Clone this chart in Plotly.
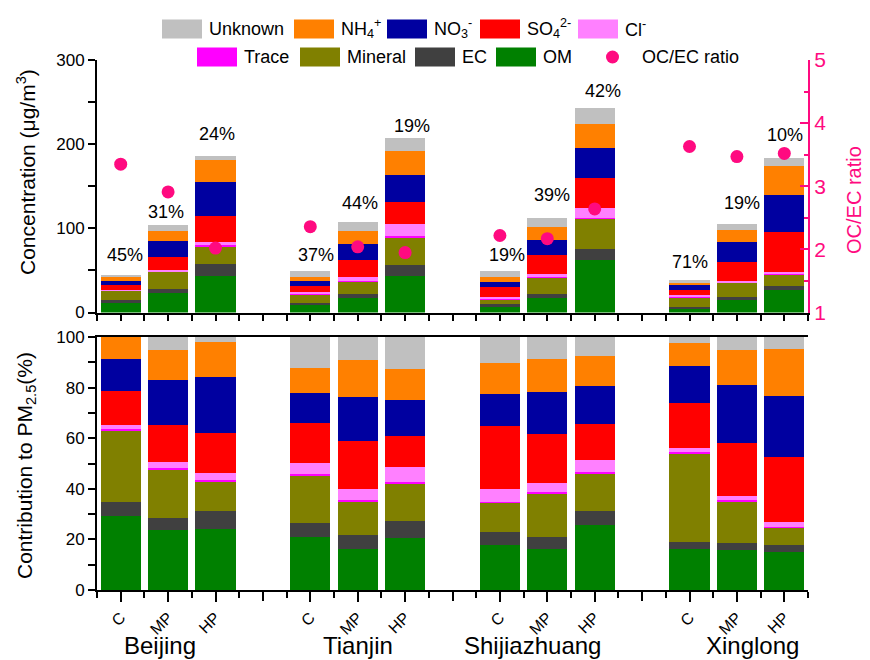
import plotly.graph_objects as go

# ---------------- data ----------------
cities = ["Beijing", "Tianjin", "Shijiazhuang", "Xinglong"]
periods = ["C", "MP", "HP"]

# Concentration (ug/m3); order: BJ C,MP,HP, TJ C,MP,HP, SJZ C,MP,HP, XL C,MP,HP
conc_OM = [11.7, 23.6, 43.8, 8.9, 17.6, 43.2, 7.7, 17.6, 62.0, 5.3, 15.2, 27.1]
conc_EC = [2.8, 4.7, 14.2, 2.8, 4.8, 13.1, 2.0, 4.8, 13.8, 0.8, 2.8, 4.8]
conc_Mineral = [11.4, 20.2, 21.0, 9.1, 14.2, 32.9, 5.9, 19.4, 35.3, 12.3, 17.4, 12.7]
conc_Trace = [0.6, 0.8, 0.8, 0.8, 1.2, 1.2, 0.8, 0.8, 1.2, 0.8, 0.8, 1.1]
conc_Cl = [0.8, 1.2, 4.4, 2.4, 4.4, 14.3, 2.0, 3.5, 12.3, 1.2, 1.6, 2.4]
conc_SO4 = [4.8, 15.8, 30.1, 7.5, 20.2, 26.5, 11.9, 22.2, 35.2, 6.3, 21.8, 47.1]
conc_NO3 = [5.9, 18.6, 40.4, 5.9, 19.0, 31.7, 6.3, 18.2, 35.2, 5.6, 24.2, 44.4]
conc_NH4 = [4.8, 11.9, 26.1, 4.8, 15.4, 28.5, 5.6, 14.7, 28.6, 3.9, 14.2, 34.5]
conc_Unknown = [0.8, 7.2, 5.1, 7.5, 11.1, 15.4, 6.7, 10.7, 19.8, 2.0, 6.8, 9.5]

# Contribution to PM2.5 (%)
pct_OM = [29.3, 23.6, 24.0, 21.0, 16.3, 20.7, 17.9, 16.3, 25.6, 16.3, 15.8, 15.1]
pct_EC = [5.3, 5.0, 7.4, 5.5, 5.3, 6.5, 5.2, 4.8, 5.8, 2.8, 2.8, 2.8]
pct_Mineral = [28.4, 19.0, 11.4, 18.6, 13.3, 14.8, 11.3, 17.1, 14.8, 34.7, 16.5, 6.8]
pct_Trace = [0.7, 0.5, 0.6, 0.7, 0.5, 0.6, 0.5, 0.5, 0.4, 0.6, 0.6, 0.4]
pct_Cl = [1.6, 2.3, 3.0, 4.3, 4.7, 6.2, 5.0, 3.6, 4.9, 1.8, 1.6, 1.7]
pct_SO4 = [13.3, 15.0, 15.7, 16.1, 18.8, 12.1, 24.8, 19.5, 14.3, 17.7, 20.7, 25.7]
pct_NO3 = [12.9, 17.6, 22.0, 11.5, 17.5, 14.3, 12.6, 16.6, 14.8, 14.6, 23.2, 24.2]
pct_NH4 = [8.5, 11.7, 13.9, 10.0, 14.7, 12.3, 12.5, 13.0, 11.7, 9.1, 13.6, 18.7]
pct_Unknown = [0.0, 5.3, 2.0, 12.3, 8.9, 12.5, 10.2, 8.6, 7.7, 2.4, 5.2, 4.6]

oc_ec_ratio = [3.35, 2.91, 2.02, 2.36, 2.04, 1.95, 2.22, 2.17, 2.64, 3.63, 3.47, 3.52]
pct_labels = ["45%", "31%", "24%", "37%", "44%", "19%", "19%", "39%", "42%", "71%", "19%", "10%"]

# ---------------- styling ----------------
FONT = "Liberation Sans, Arial, sans-serif"
PINK = "#FF0A80"
comp_names = ["OM", "EC", "Mineral", "Trace", "Cl", "SO4", "NO3", "NH4", "Unknown"]
comp_colors = {
    "OM": "#008000", "EC": "#404040", "Mineral": "#808000", "Trace": "#FF00FF",
    "Cl": "#FF80FF", "SO4": "#FF0000", "NO3": "#0000A0", "NH4": "#FF8000",
    "Unknown": "#C0C0C0",
}
conc = {"OM": conc_OM, "EC": conc_EC, "Mineral": conc_Mineral, "Trace": conc_Trace,
        "Cl": conc_Cl, "SO4": conc_SO4, "NO3": conc_NO3, "NH4": conc_NH4,
        "Unknown": conc_Unknown}
pct = {"OM": pct_OM, "EC": pct_EC, "Mineral": pct_Mineral, "Trace": pct_Trace,
       "Cl": pct_Cl, "SO4": pct_SO4, "NO3": pct_NO3, "NH4": pct_NH4,
       "Unknown": pct_Unknown}

# bar positions: 3 periods per city, one empty slot between cities
xpos = [ci * 4 + pi + 1 for ci in range(len(cities)) for pi in range(len(periods))]

fig = go.Figure()
for c in comp_names:
    fig.add_trace(go.Bar(x=xpos, y=conc[c], marker=dict(color=comp_colors[c], line=dict(width=0)),
                         width=0.85, xaxis="x", yaxis="y", showlegend=False, name=c))
for c in comp_names:
    fig.add_trace(go.Bar(x=xpos, y=pct[c], marker=dict(color=comp_colors[c], line=dict(width=0)),
                         width=0.85, xaxis="x2", yaxis="y2", showlegend=False, name=c))
fig.add_trace(go.Scatter(x=xpos, y=oc_ec_ratio, mode="markers", xaxis="x", yaxis="y3",
                         marker=dict(color=PINK, size=13), showlegend=False, name="OC/EC ratio"))

# ---------------- layout ----------------
# the page body has an 8px margin; reference pixel coords are shifted by OFF
OFF = 8
W, H = 862, 652
ML, MT = 97 - OFF, 60 - OFF
MR = W - (808 - OFF)
MB = H - (590 - OFF)
PW, PH = W - ML - MR, H - MT - MB


def px_x(px):
    return (px - OFF - ML) / PW


def px_y(py):
    return (H - MB - (py - OFF)) / PH


top_dom = [px_y(312.5), 1.0]
bot_dom = [0.0, px_y(337)]

half_ticks = [i * 0.5 for i in range(1, 32)]
bar_ticks = xpos
bar_text = [periods[i % 3] for i in range(len(xpos))]
gap_ticks = [4, 8, 12]

tick_font = dict(family=FONT, size=17, color="black")

fig.update_layout(
    width=W, height=H, margin=dict(l=ML, r=MR, t=MT, b=MB),
    paper_bgcolor="white", plot_bgcolor="white", barmode="stack", bargap=0,
    font=dict(family=FONT, color="black"),
    xaxis=dict(domain=[0, 1], anchor="y", range=[0.5, 15.5], showgrid=False, zeroline=False,
               showline=True, linecolor="black", linewidth=2, tickmode="array",
               tickvals=half_ticks, ticks="outside", ticklen=6, tickwidth=1.5, tickcolor="black",
               showticklabels=False),
    yaxis=dict(domain=top_dom, anchor="x", range=[0, 300], showgrid=False, zeroline=False,
               showline=True, linecolor="black", linewidth=2, tickmode="array",
               tickvals=[0, 100, 200, 300],
               ticks="outside", ticklen=7, tickwidth=1.5, tickcolor="black", tickfont=tick_font,
               minor=dict(tickvals=[50, 150, 250], ticks="outside", ticklen=7, tickwidth=1.5,
                          tickcolor="black")),
    yaxis3=dict(overlaying="y", anchor="x", side="right", range=[1, 5], showgrid=False,
                zeroline=False, showline=True, linecolor=PINK, linewidth=2, tickmode="array",
                tickvals=[1, 2, 3, 4, 5], ticks="inside", ticklen=8, tickwidth=1.5, tickcolor=PINK,
                minor=dict(tickvals=[1.5, 2.5, 3.5, 4.5], ticks="inside", ticklen=4,
                           tickwidth=1.5, tickcolor=PINK),
                tickfont=dict(family=FONT, size=21, color=PINK)),
    xaxis2=dict(domain=[0, 1], anchor="y2", range=[0.5, 15.5], showgrid=False, zeroline=False,
                showline=True, linecolor="black", linewidth=2, mirror=True, tickmode="array",
                tickvals=bar_ticks, ticktext=bar_text, ticks="outside", ticklen=10,
                tickwidth=1.5, tickcolor="black", tickangle=-45,
                minor=dict(tickvals=[i + 0.5 for i in range(0, 16)], ticks="outside",
                           ticklen=6, tickwidth=1.5, tickcolor="black"),
                tickfont=dict(family=FONT, size=16, color="black")),
    xaxis3=dict(overlaying="x2", anchor="y2", range=[0.5, 15.5], showgrid=False, zeroline=False,
                showline=False, tickmode="array", tickvals=gap_ticks, ticks="outside",
                ticklen=10, tickwidth=1.5, tickcolor="black", showticklabels=False),
    yaxis2=dict(domain=bot_dom, anchor="x2", range=[0, 100], showgrid=False, zeroline=False,
                showline=True, linecolor="black", linewidth=2, tickmode="array",
                tickvals=[0, 20, 40, 60, 80, 100],
                ticks="outside", ticklen=7, tickwidth=1.5, tickcolor="black", tickfont=tick_font,
                minor=dict(tickvals=[10, 30, 50, 70, 90], ticks="outside", ticklen=7,
                           tickwidth=1.5, tickcolor="black")),
)
# invisible trace to activate the extra tick axis
fig.add_trace(go.Scatter(x=[None], y=[None], xaxis="x3", yaxis="y2", showlegend=False,
                         hoverinfo="skip"))

annotations = []
# percentage labels above bars (data coordinates)
lab_x = [1.1, 1.95, 3.03, 5.12, 6.05, 7.15, 9.16, 10.09, 11.17, 13.0, 14.1, 15.02]
lab_y = [68, 119, 212, 68, 130, 222, 68, 140, 263, 60, 130, 211]
for t, x, y in zip(pct_labels, lab_x, lab_y):
    annotations.append(dict(text=t, x=x, y=y, xref="x", yref="y", showarrow=False,
                            font=dict(family=FONT, size=18, color="black"),
                            xanchor="center", yanchor="middle"))

# city names
city_px = [160, 358, 532, 752]
for name, cx in zip(cities, city_px):
    annotations.append(dict(text=name, x=px_x(cx), y=px_y(645), xref="paper", yref="paper",
                            showarrow=False, font=dict(family=FONT, size=24, color="black"),
                            xanchor="center", yanchor="middle"))

# axis titles
annotations.append(dict(text="Concentration (μg/m<sup>3</sup>)", x=px_x(26), y=px_y(172),
                        xref="paper", yref="paper", showarrow=False, textangle=-90,
                        font=dict(family=FONT, size=21, color="black"),
                        xanchor="center", yanchor="middle"))
annotations.append(dict(text="Contribution to PM<sub>2.5</sub>(%)", x=px_x(26), y=px_y(466),
                        xref="paper", yref="paper", showarrow=False, textangle=-90,
                        font=dict(family=FONT, size=21, color="black"),
                        xanchor="center", yanchor="middle"))
annotations.append(dict(text="OC/EC ratio", x=px_x(854), y=px_y(200),
                        xref="paper", yref="paper", showarrow=False, textangle=-90,
                        font=dict(family=FONT, size=20, color=PINK),
                        xanchor="center", yanchor="middle"))

# manual legend
shapes = []
legend_items = [
    ("Unknown", "Unknown", 162, 29),
    ("NH4", "NH<sub>4</sub><sup>+</sup>", 294, 29),
    ("NO3", "NO<sub>3</sub><sup>-</sup>", 387, 29),
    ("SO4", "SO<sub>4</sub><sup>2-</sup>", 480, 29),
    ("Cl", "Cl<sup>-</sup>", 578, 29),
    ("Trace", "Trace", 197, 57),
    ("Mineral", "Mineral", 300, 57),
    ("EC", "EC", 415, 57),
    ("OM", "OM", 496, 57),
]
for key, label, bx, cy in legend_items:
    shapes.append(dict(type="rect", xref="paper", yref="paper",
                       x0=px_x(bx), x1=px_x(bx + 40), y0=px_y(cy + 9.5), y1=px_y(cy - 9.5),
                       fillcolor=comp_colors[key], line=dict(width=0)))
    annotations.append(dict(text=label, x=px_x(bx + 45), y=px_y(cy), xref="paper", yref="paper",
                            showarrow=False, font=dict(family=FONT, size=18, color="black"),
                            xanchor="left", yanchor="middle"))
shapes.append(dict(type="circle", xref="paper", yref="paper",
                   x0=px_x(606), x1=px_x(619), y0=px_y(63.5), y1=px_y(50.5),
                   fillcolor=PINK, line=dict(width=0)))
annotations.append(dict(text="OC/EC ratio", x=px_x(640), y=px_y(57), xref="paper", yref="paper",
                        showarrow=False, font=dict(family=FONT, size=18, color="black"),
                        xanchor="left", yanchor="middle"))

fig.update_layout(annotations=annotations, shapes=shapes)

fig.write_html("out.html")
